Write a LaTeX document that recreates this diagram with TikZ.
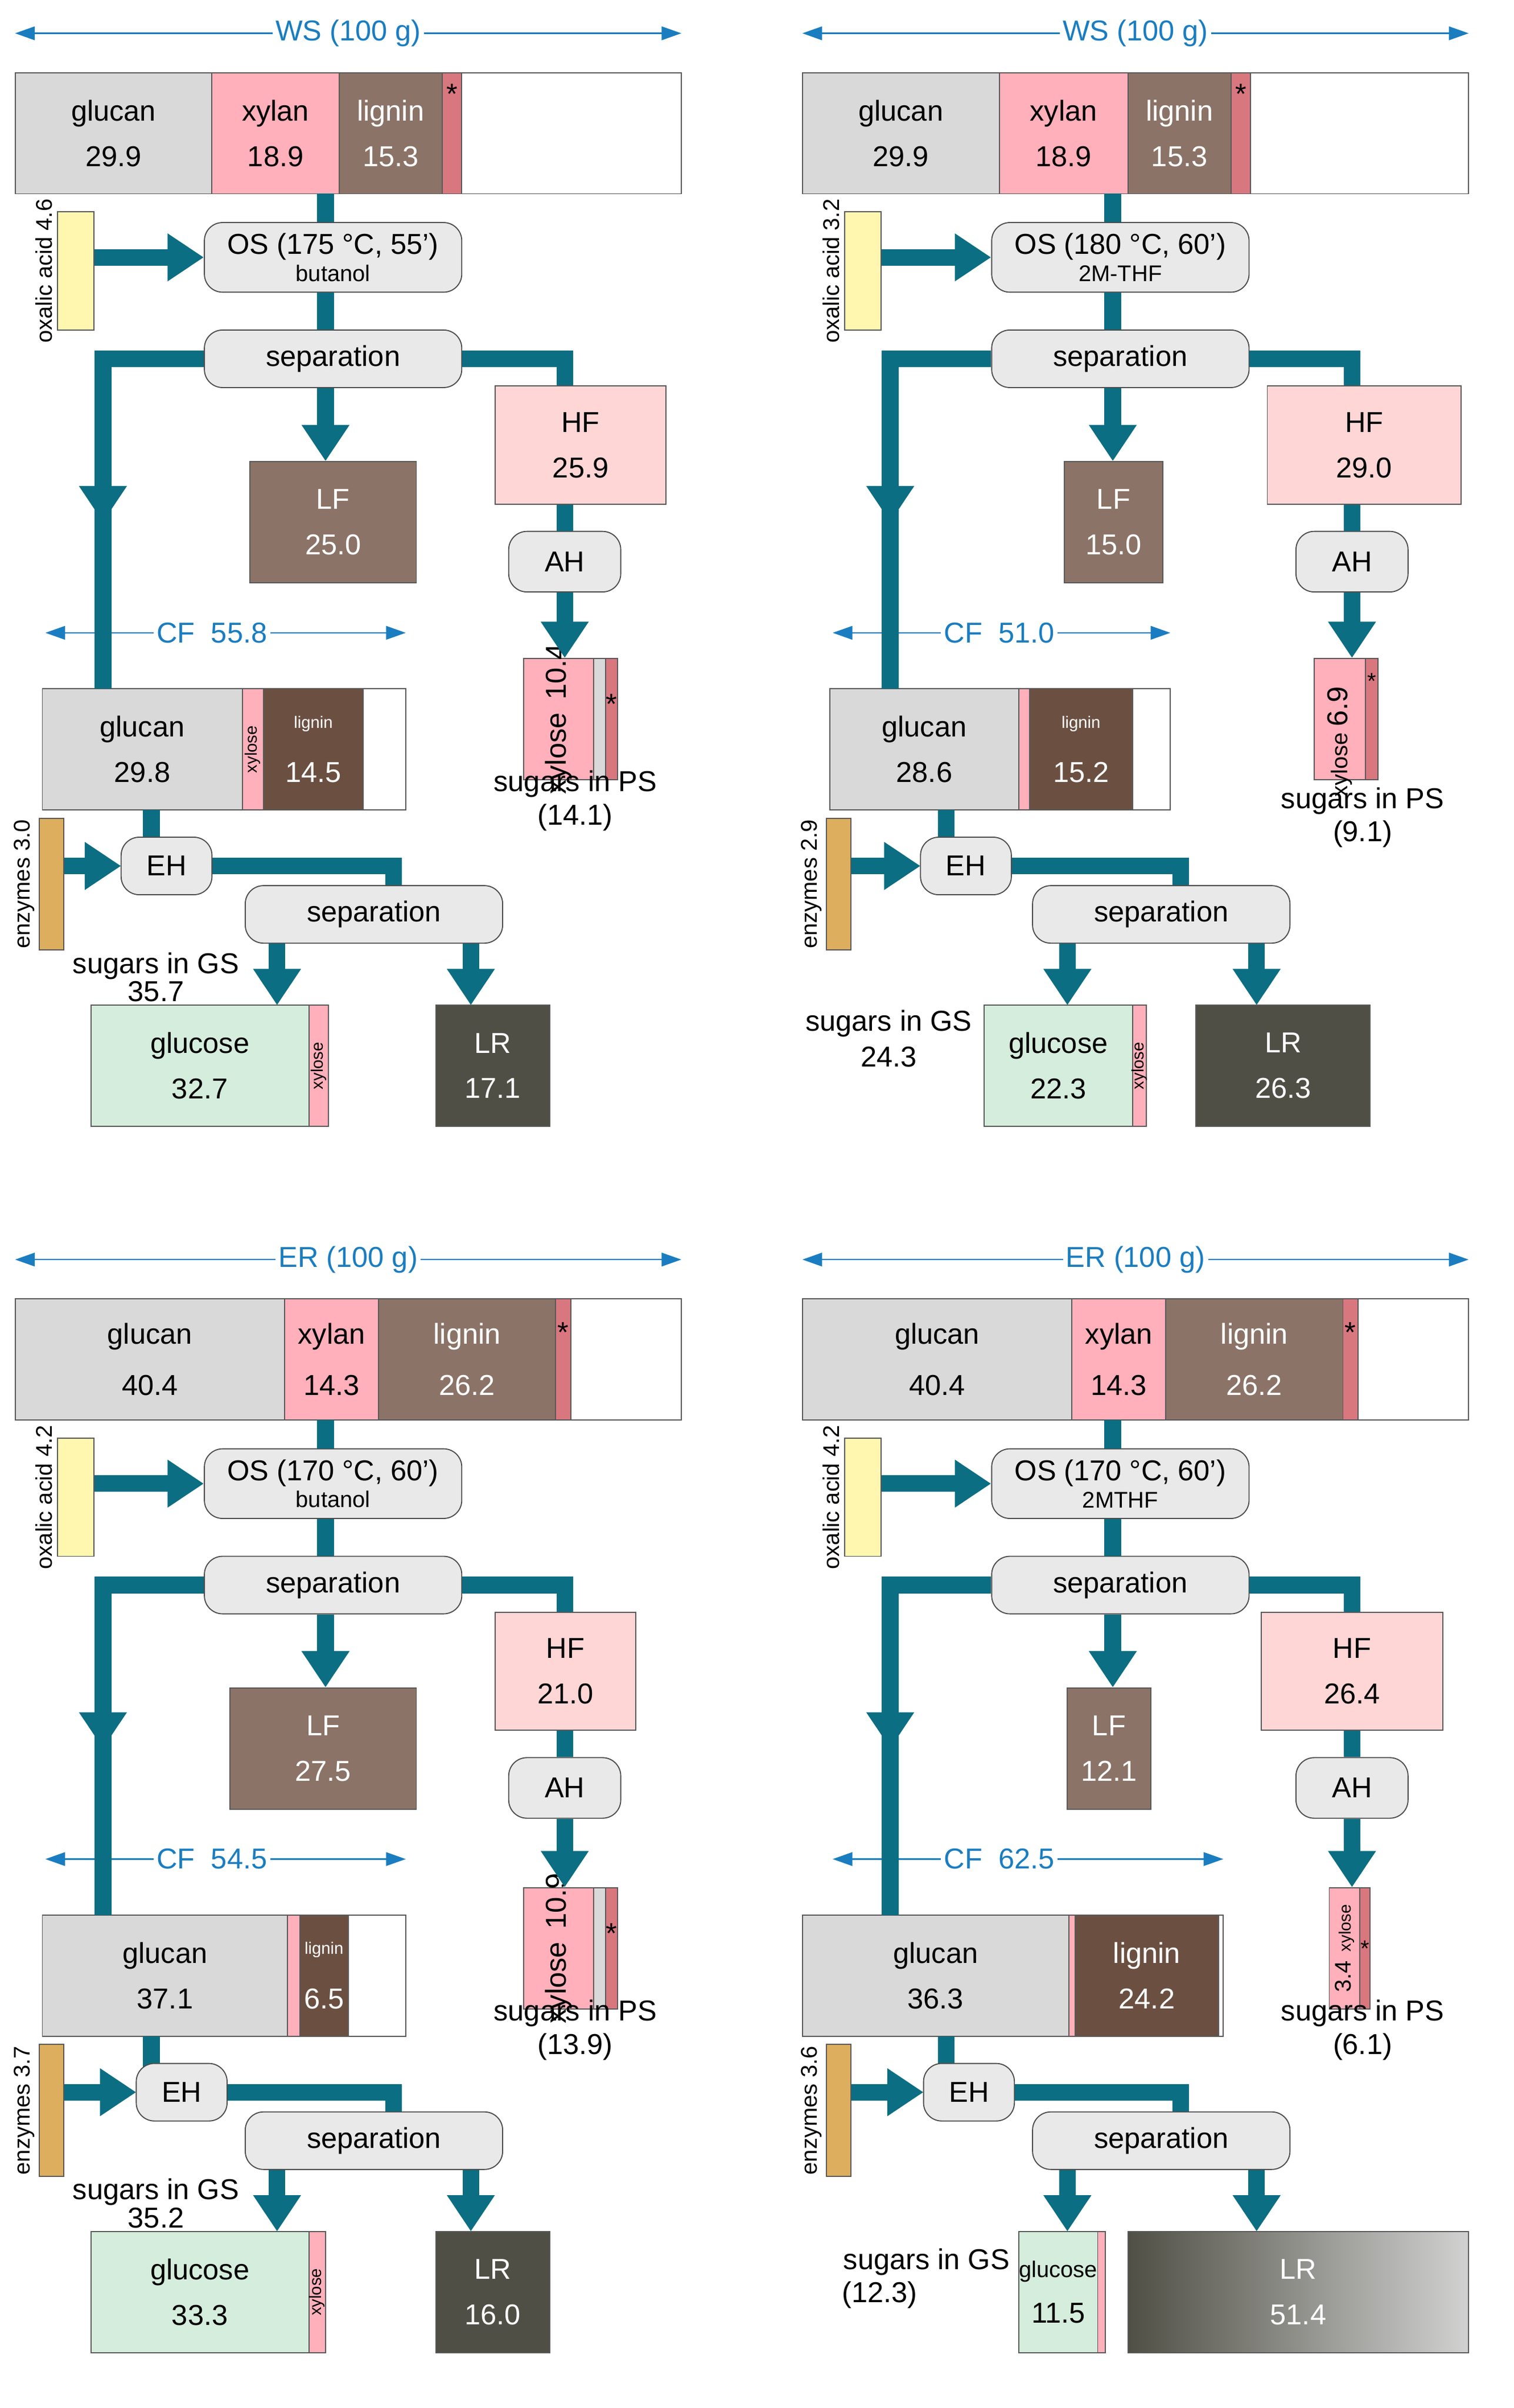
\documentclass[tikz,border=0pt]{standalone}
\usepackage{fontspec}
\setmainfont{Liberation Sans}
\usetikzlibrary{arrows.meta,calc}
\definecolor{teal}{HTML}{0B6E82}
\definecolor{dimc}{HTML}{1A7DC0}
\definecolor{glu}{HTML}{D9D9D9}
\definecolor{xyl}{HTML}{FFB0BA}
\definecolor{lig}{HTML}{8B7367}
\definecolor{ligd}{HTML}{6B5042}
\definecolor{star}{HTML}{D9777F}
\definecolor{hfc}{HTML}{FFD6D6}
\definecolor{lrc}{HTML}{4F4F45}
\definecolor{gcc}{HTML}{D4EDDC}
\definecolor{oxc}{HTML}{FFF6B0}
\definecolor{enc}{HTML}{DDAE5E}
\definecolor{procc}{HTML}{E9E9E9}
\newcommand\fbig{\fontsize{19}{22}\selectfont}
\newcommand\fsm{\fontsize{15}{17}\selectfont}
\newcommand\ftn{\fontsize{11}{12}\selectfont}
\newcommand\bx[7]{\node[box,fill=#6,minimum width={(#4-#2)*1pt},minimum height={(#5-#3)*1pt}] (#1) at ({(#2+#4)/2},{(#3+#5)/2}) {#7};}
\tikzset{
 box/.style={draw=black!65,line width=0.7pt,inner sep=0pt,align=center,font=\fbig},
 proc/.style={draw=black!70,line width=0.7pt,fill=procc,rounded corners=12pt,inner sep=0pt,align=center,font=\fbig},
 flow/.style={draw=teal,line width=11pt},
 flowa/.style={flow,-{Triangle[length=24pt,width=30pt]}},
 dim/.style={draw=dimc,line width=0.8pt,{Triangle[length=13pt,width=9pt]}-{Triangle[length=13pt,width=9pt]}},
 dimlab/.style={fill=white,text=dimc,font=\fbig,inner sep=2pt},
 rot/.style={rotate=90,font=\fsm,inner sep=0pt},
 lab/.style={font=\fbig,inner sep=0pt,align=center}
}
\newcommand\common[9]{%
 \coordinate (tl) at (10,22); \coordinate (tr) at (450,22);
 \draw[dim] (tl) -- (tr);
 \node[dimlab] (toplab) at (230,22) {#1};
 \node[box,fill=oxc,minimum width=24pt,minimum height=78pt] (ox) at (50,179) {};
 \node[rot] (oxl) at (29,179) {oxalic acid #2};
 \node[proc,minimum width=170pt,minimum height=46pt] (os) at (220,170) {#3\\[-4pt]{\fsm #4}};
 \node[proc,minimum width=170pt,minimum height=38pt] (s1) at (220,237) {separation};
 \node[proc,minimum width=74pt,minimum height=40pt] (ah) at (373,371) {AH};
 \coordinate (cl) at (30,418); \coordinate (cr) at (#6,418);
 \draw[dim] (cl) -- (cr);
 \node[dimlab] (cflab) at (140,418) {#5};
 \node[box,fill=enc,minimum width=16pt,minimum height=87pt] (en) at (34,584) {};
 \node[rot] (enl) at (16,584) {enzymes #7};
 \coordinate (bt) at (215,128);
 \draw[flow] (bt) -- (bt|-os.north);
 \draw[flow] (os.south -| bt) -- (s1.north -| bt);
 \draw[flowa] (s1.south -| bt) -- (LF.north -| bt);
 \draw[flowa] (ox.east |- os.west) -- (os.west);
 \coordinate (lv) at (68,345); \coordinate (lm) at (68,320); \coordinate (lb) at (68,455);
 \draw[flow] (lm) -- (lb);
 \draw[flowa,line join=miter] (s1.west) -| (lv);
 \draw[flow,line join=miter] (s1.east) -| (HF.north -| ah);
 \draw[flow] (HF.south -| ah) -- (ah.north);
 \draw[flowa] (ah.south) -- (PS.north -| ah);
 \coordinate (cb) at (#9,535);
 \draw[flow] (cb) -- (cb |- 0,556);
 \coordinate (rv) at (260,586);
 \draw[flow,line join=miter] (#8,572) -| (rv);
 \draw[flowa] (en.east |- 0,572) -- (#8-30,572);
 \node[proc,minimum width=60pt,minimum height=38pt] (eh) at (#8,572) {EH};
 \node[proc,minimum width=170pt,minimum height=38pt] (s2) at (247,604) {separation};
 \draw[flowa] (s2.south -| ga) -- (ga);
 \draw[flowa] (s2.south -| la) -- (la);
}
\newcommand\topbar[4]{% xylan start, lignin start, star start, star end
}
\begin{document}
\begin{tikzpicture}[x=1pt,y=-1pt]
\useasboundingbox (0,0) rectangle (1000,1590.6);
%%%%%%%%%%%%%%%% panel 1
\begin{scope}[name prefix=p1-]
\bx{a}{10}{48}{140}{128}{glu}{glucan\\[8pt]29.9}
\bx{b}{140}{48}{224}{128}{xyl}{xylan\\[8pt]18.9}
\bx{c}{224}{48}{292}{128}{lig,text=white}{lignin\\[8pt]15.3}
\bx{d}{292}{48}{305}{128}{star}{}
\node[lab] (ds) at (298.5,62) {*};
\bx{e}{305}{48}{450}{128}{white}{}
\bx{LF}{165}{305}{275}{385}{lig,text=white}{LF\\[8pt]25.0}
\bx{HF}{327}{255}{440}{333}{hfc}{HF\\[8pt]25.9}
\bx{PS}{346}{435}{392}{515}{xyl}{}
\node[rot,font=\fbig] (pst) at (369,475) {xylose \,10.4};
\bx{ps2}{392}{435}{400}{515}{glu}{}
\bx{ps3}{400}{435}{408}{515}{star}{}
\node[lab] (ps3s) at (404,465) {*};
\node[lab] (psl) at (380,529) {sugars in PS\\(14.1)};
\bx{CF}{28}{455}{160}{535}{glu}{glucan\\[8pt]29.8}
\bx{cx}{160}{455}{174}{535}{xyl}{}
\node[rot,font=\ftn] (cxt) at (167,495) {xylose};
\bx{cl}{174}{455}{240}{535}{ligd,text=white}{{\ftn lignin}\\[14pt]14.5}
\bx{cw}{240}{455}{268}{535}{white}{}
\node[lab] (gsl) at (103,638) {sugars in GS};
\node[lab] (gsv) at (103,655) {35.7};
\bx{glc}{60}{664}{204}{744}{gcc}{glucose\\[8pt]32.7}
\bx{gx}{204}{664}{217}{744}{xyl}{}
\node[rot,font=\ftn] (gxt) at (210.5,704) {xylose};
\bx{LR}{288}{664}{363}{744}{lrc,text=white}{LR\\[8pt]17.1}
\coordinate (ga) at (183,664); \coordinate (la) at (311,664);
\common{WS (100 g)}{4.6}{OS (175 °C, 55')}{butanol}{CF \ 55.8}{268}{3.0}{110}{100}
\end{scope}
%%%%%%%%%%%%%%%% panel 2
\begin{scope}[shift={(520,0)},name prefix=p2-]
\bx{a}{10}{48}{140}{128}{glu}{glucan\\[8pt]29.9}
\bx{b}{140}{48}{225}{128}{xyl}{xylan\\[8pt]18.9}
\bx{c}{225}{48}{293}{128}{lig,text=white}{lignin\\[8pt]15.3}
\bx{d}{293}{48}{306}{128}{star}{}
\node[lab] (ds) at (299.5,62) {*};
\bx{e}{306}{48}{450}{128}{white}{}
\bx{LF}{183}{305}{248}{385}{lig,text=white}{LF\\[8pt]15.0}
\bx{HF}{317}{255}{445}{333}{hfc}{HF\\[8pt]29.0}
\bx{PS}{348}{435}{382}{515}{xyl}{}
\node[rot] (pst) at (365,490) {xylose \fbig 6.9};
\bx{ps3}{382}{435}{390}{515}{star}{}
\node[lab,font=\fsm] (ps3s) at (386,450) {*};
\node[lab] (psl) at (380,540) {sugars in PS\\(9.1)};
\bx{CF}{28}{455}{153}{535}{glu}{glucan\\[8pt]28.6}
\bx{cx}{153}{455}{160}{535}{xyl}{}
\bx{cl}{160}{455}{228}{535}{ligd,text=white}{{\ftn lignin}\\[14pt]15.2}
\bx{cw}{228}{455}{253}{535}{white}{}
\node[lab] (gsl) at (67,676) {sugars in GS};
\node[lab] (gsv) at (67,698) {24.3};
\bx{glc}{130}{664}{228}{744}{gcc}{glucose\\[8pt]22.3}
\bx{gx}{228}{664}{237}{744}{xyl}{}
\node[rot,font=\ftn] (gxt) at (232.5,704) {xylose};
\bx{LR}{270}{664}{385}{744}{lrc,text=white}{LR\\[8pt]26.3}
\coordinate (ga) at (185,664); \coordinate (la) at (310,664);
\common{WS (100 g)}{3.2}{OS (180 °C, 60')}{2M-THF}{CF \ 51.0}{253}{2.9}{118}{105}
\end{scope}
%%%%%%%%%%%%%%%% panel 3
\begin{scope}[shift={(0,810)},name prefix=p3-]
\bx{a}{10}{48}{188}{128}{glu}{glucan\\[12pt]40.4}
\bx{b}{188}{48}{250}{128}{xyl}{xylan\\[12pt]14.3}
\bx{c}{250}{48}{367}{128}{lig,text=white}{lignin\\[12pt]26.2}
\bx{d}{367}{48}{377}{128}{star}{}
\node[lab] (ds) at (372,70) {*};
\bx{e}{377}{48}{450}{128}{white}{}
\bx{LF}{152}{305}{275}{385}{lig,text=white}{LF\\[8pt]27.5}
\bx{HF}{327}{255}{420}{333}{hfc}{HF\\[8pt]21.0}
\bx{PS}{346}{437}{392}{517}{xyl}{}
\node[rot,font=\fbig] (pst) at (369,477) {xylose \,10.9};
\bx{ps2}{392}{437}{400}{517}{glu}{}
\bx{ps3}{400}{437}{408}{517}{star}{}
\node[lab] (ps3s) at (404,467) {*};
\node[lab] (psl) at (380,531) {sugars in PS\\(13.9)};
\bx{CF}{28}{455}{190}{535}{glu}{glucan\\[8pt]37.1}
\bx{cx}{190}{455}{198}{535}{xyl}{}
\bx{cl}{198}{455}{230}{535}{ligd,text=white}{{\ftn lignin}\\[14pt]6.5}
\bx{cw}{230}{455}{268}{535}{white}{}
\node[lab] (gsl) at (103,638) {sugars in GS};
\node[lab] (gsv) at (103,655) {35.2};
\bx{glc}{60}{664}{204}{744}{gcc}{glucose\\[8pt]33.3}
\bx{gx}{204}{664}{215}{744}{xyl}{}
\node[rot,font=\ftn] (gxt) at (209.5,704) {xylose};
\bx{LR}{288}{664}{363}{744}{lrc,text=white}{LR\\[8pt]16.0}
\coordinate (ga) at (183,664); \coordinate (la) at (311,664);
\common{ER (100 g)}{4.2}{OS (170 °C, 60')}{butanol}{CF \ 54.5}{268}{3.7}{120}{100}
\end{scope}
%%%%%%%%%%%%%%%% panel 4
\begin{scope}[shift={(520,810)},name prefix=p4-]
\bx{a}{10}{48}{188}{128}{glu}{glucan\\[12pt]40.4}
\bx{b}{188}{48}{250}{128}{xyl}{xylan\\[12pt]14.3}
\bx{c}{250}{48}{367}{128}{lig,text=white}{lignin\\[12pt]26.2}
\bx{d}{367}{48}{377}{128}{star}{}
\node[lab] (ds) at (372,70) {*};
\bx{e}{377}{48}{450}{128}{white}{}
\bx{LF}{185}{305}{240}{385}{lig,text=white}{LF\\[8pt]12.1}
\bx{HF}{313}{255}{433}{333}{hfc}{HF\\[8pt]26.4}
\bx{PS}{358}{437}{378}{517}{xyl}{}
\node[rot,font=\ftn] (pst) at (368,477) {{\fsm 3.4} \ xylose};
\bx{ps3}{378}{437}{385}{517}{star}{}
\node[lab,font=\fsm] (ps3s) at (381.5,477) {*};
\node[lab] (psl) at (380,531) {sugars in PS\\(6.1)};
\bx{CF}{10}{455}{186}{535}{glu}{glucan\\[8pt]36.3}
\bx{cx}{186}{455}{190}{535}{xyl}{}
\bx{cl}{190}{455}{285}{535}{ligd,text=white}{lignin\\[8pt]24.2}
\bx{cw}{285}{455}{288}{535}{white}{}
\node[lab] (gsl) at (92,684) {sugars in GS};
\node[lab,anchor=west] (gsv) at (36,706) {(12.3)};
\bx{glc}{153}{664}{205}{744}{gcc}{{\fsm glucose}\\[8pt]11.5}
\bx{gx}{205}{664}{210}{744}{xyl}{}
\bx{LR}{225}{664}{450}{744}{lrc,left color=lrc,right color=black!18,text=white}{LR\\[8pt]51.4}
\coordinate (ga) at (185,664); \coordinate (la) at (310,664);
\common{ER (100 g)}{4.2}{OS (170 °C, 60')}{2MTHF}{CF \ 62.5}{288}{3.6}{120}{105}
\end{scope}
\end{tikzpicture}
\end{document}
